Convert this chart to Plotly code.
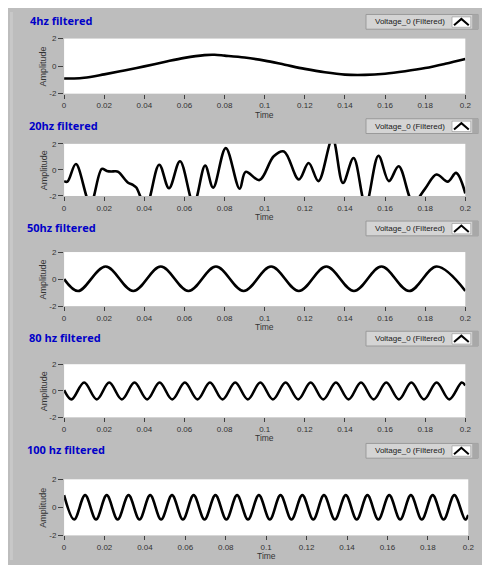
import plotly.graph_objects as go

# The page keeps the default 8 px body margin; the figure runs to the window's right and bottom edges.
OX, OY = 8, 8
FW, FH = 482, 557

# ---------------- data ----------------
titles = ["4hz filtered", "20hz filtered", "50hz filtered", "80 hz filtered", "100 hz filtered"]
legend_name = "Voltage_0 (Filtered)"
x_title = "Time"
y_title = "Amplitude"
x_tick_vals = [0, 0.02, 0.04, 0.06, 0.08, 0.1, 0.12, 0.14, 0.16, 0.18, 0.2]
x_tick_text = ["0", "0.02", "0.04", "0.06", "0.08", "0.1", "0.12", "0.14", "0.16", "0.18", "0.2"]
y_tick_vals = [-2, 0, 2]
y_tick_text = ["-2", "0", "2"]

t_4hz = [0, 0.005, 0.01, 0.02, 0.03, 0.04, 0.05, 0.06, 0.07, 0.075, 0.08, 0.09, 0.10,
         0.11, 0.12, 0.13, 0.14, 0.15, 0.16, 0.17, 0.18, 0.19, 0.20]
v_4hz = [-0.90, -0.90, -0.85, -0.60, -0.32, -0.02, 0.30, 0.60, 0.80, 0.82, 0.76, 0.62, 0.40,
         0.10, -0.20, -0.45, -0.62, -0.64, -0.55, -0.37, -0.14, 0.17, 0.52]

t_20hz = [0, 0.0017, 0.0059, 0.0131, 0.0188, 0.0213, 0.0235, 0.0255, 0.0270, 0.0319, 0.0343,
          0.0360, 0.0408, 0.0474, 0.0523, 0.0578, 0.0646, 0.0703, 0.0743, 0.0806, 0.0875,
          0.0905, 0.0974, 0.1045, 0.1096, 0.1170, 0.1219, 0.1268, 0.1338, 0.1390, 0.1443,
          0.1503, 0.1567, 0.1619, 0.1668, 0.1740, 0.1799, 0.1856, 0.1913, 0.1954, 0.2000]
v_20hz = [-0.86, -0.90, 0.45, -2.60, 0.08, -0.08, -0.12, -0.10, -0.15, -0.98, -1.15,
          -1.35, -2.80, 0.40, -1.41, 0.66, -2.60, 0.33, -1.36, 1.67, -1.45,
          -0.15, -0.78, 1.05, 1.42, -0.73, 0.53, -0.86, 2.40, -1.00, 0.91,
          -2.70, 1.09, -0.86, 0.28, -2.50, -1.45, -0.35, -0.90, -0.23, -1.80]

t_50hz = [0, 0.0070, 0.0207, 0.0345, 0.0482, 0.0620, 0.0757, 0.0895, 0.1032, 0.1170,
          0.1307, 0.1445, 0.1582, 0.1720, 0.1857, 0.2000]
v_50hz = [0.00, -0.88, 0.93, -0.88, 0.93, -0.88, 0.93, -0.88, 0.93, -0.88,
          0.93, -0.88, 0.93, -0.88, 0.93, -0.87]

t_80hz = [0, 0.0037, 0.0100, 0.0163, 0.0225, 0.0288, 0.0351, 0.0414, 0.0476, 0.0539,
          0.0602, 0.0665, 0.0727, 0.0790, 0.0853, 0.0916, 0.0978, 0.1041, 0.1104, 0.1167,
          0.1229, 0.1292, 0.1355, 0.1418, 0.1480, 0.1543, 0.1606, 0.1669, 0.1731, 0.1794,
          0.1857, 0.1920, 0.1982, 0.2000]
v_80hz = [0.05, -0.65, 0.62, -0.65, 0.62, -0.65, 0.62, -0.65, 0.62, -0.65,
          0.62, -0.65, 0.62, -0.65, 0.62, -0.65, 0.62, -0.65, 0.62, -0.65,
          0.62, -0.65, 0.62, -0.65, 0.62, -0.65, 0.62, -0.65, 0.62, -0.65,
          0.62, -0.65, 0.62, 0.40]

t_100hz = [0, 0.0050, 0.0104, 0.0158, 0.0211, 0.0265, 0.0319, 0.0373, 0.0426, 0.0480,
           0.0534, 0.0588, 0.0641, 0.0695, 0.0749, 0.0803, 0.0856, 0.0910, 0.0964, 0.1018,
           0.1071, 0.1125, 0.1179, 0.1233, 0.1286, 0.1340, 0.1394, 0.1448, 0.1501, 0.1555,
           0.1609, 0.1663, 0.1716, 0.1770, 0.1824, 0.1878, 0.1931, 0.1985, 0.2000]
v_100hz = [0.87, -0.87, 0.87, -0.87, 0.87, -0.87, 0.87, -0.87, 0.87, -0.87,
           0.87, -0.87, 0.87, -0.87, 0.87, -0.87, 0.87, -0.87, 0.87, -0.87,
           0.87, -0.87, 0.87, -0.87, 0.87, -0.87, 0.87, -0.87, 0.87, -0.87,
           0.87, -0.87, 0.87, -0.87, 0.87, -0.87, 0.87, -0.87, -0.55]

series = [(t_4hz, v_4hz), (t_20hz, v_20hz), (t_50hz, v_50hz), (t_80hz, v_80hz), (t_100hz, v_100hz)]

# ---------------- layout geometry (window pixels) ----------------
boxes = [
    dict(x0=63, x1=471, y0=35, y1=91, tx=26, ty=17, ly=10.5, xt=21.5),
    dict(x0=63, x1=471, y0=142, y1=195, tx=25, ty=123, ly=116.5, xt=21.5),
    dict(x0=63, x1=471, y0=252, y1=307, tx=23, ty=227, ly=220.5, xt=21.5),
    dict(x0=63, x1=471, y0=366, y1=420, tx=25, ty=339, ly=332.5, xt=21.5),
    dict(x0=63, x1=474, y0=483, y1=540, tx=23, ty=453, ly=446.5, xt=20.6),
]

BG = "#bdbdbd"
TXT = "#333333"
FONTFAM = "Liberation Sans, Arial, sans-serif"
TICKFONT = dict(family=FONTFAM, size=8, color=TXT)
YTITLEFONT = dict(family=FONTFAM, size=9, color=TXT)
XTITLEFONT = dict(family=FONTFAM, size=8.5, color=TXT)
LEGFONT = dict(family=FONTFAM, size=8, color="#202020")
TITLEFONT = dict(family="Open Sans, Noto Sans, sans-serif", size=11, color="#0000c8")


def px(x):
    return (x - OX) / FW


def py(y):
    return 1 - (y - OY) / FH


fig = go.Figure()
layout = dict(
    width=FW, height=FH, autosize=False,
    margin=dict(l=0, r=0, t=0, b=0),
    paper_bgcolor=BG, plot_bgcolor="white",
    showlegend=False,
)
shapes = [
    dict(type="rect", xref="paper", yref="paper", x0=px(8), x1=px(11), y0=py(8), y1=py(OY + FH),
         fillcolor="#c8c8c8", line=dict(width=0)),
]
annotations = []

for i, (b, (t, v), title) in enumerate(zip(boxes, series, titles)):
    n = i + 1
    xa = "x" if n == 1 else f"x{n}"
    ya = "y" if n == 1 else f"y{n}"
    fig.add_trace(go.Scatter(x=t, y=v, mode="lines", xaxis=xa, yaxis=ya,
                             line=dict(color="black", width=2.6, shape="spline", smoothing=1),
                             name=legend_name, hoverinfo="x+y"))
    layout[f"xaxis{n}"] = dict(
        domain=[px(b["x0"]), px(b["x1"])], range=[0, 0.2], anchor=ya,
        tickmode="array", tickvals=x_tick_vals, ticktext=x_tick_text,
        ticks="outside", ticklen=4, tickwidth=1, tickcolor="#404040",
        tickfont=TICKFONT, showgrid=False, zeroline=False, showline=False, fixedrange=True)
    layout[f"yaxis{n}"] = dict(
        domain=[py(b["y1"]), py(b["y0"])], range=[-2, 2], anchor=xa,
        tickmode="array", tickvals=y_tick_vals, ticktext=y_tick_text,
        ticks="outside", ticklen=5, tickwidth=1, tickcolor="#404040",
        tickfont=TICKFONT, showgrid=False, zeroline=False, showline=False, fixedrange=True)

    # panel title
    annotations.append(dict(text=f"<b>{title}</b>", xref="paper", yref="paper",
                            x=px(b["tx"]), y=py(b["ty"]), xanchor="left", yanchor="middle",
                            showarrow=False, font=TITLEFONT))
    # axis titles
    annotations.append(dict(text=y_title, xref="paper", yref="paper", textangle=-90,
                            x=px(42), y=py((b["y0"] + b["y1"]) / 2), xanchor="center", yanchor="middle",
                            showarrow=False, font=YTITLEFONT))
    annotations.append(dict(text=x_title, xref="paper", yref="paper",
                            x=px((b["x0"] + b["x1"]) / 2), y=py(b["y1"] + b["xt"]), xanchor="center",
                            yanchor="middle", showarrow=False, font=XTITLEFONT, borderpad=0))

    # legend box (LabVIEW style)
    ly = b["ly"]
    lx0, lx1 = 370, 484
    shapes.append(dict(type="rect", xref="paper", yref="paper", x0=px(lx0), x1=px(lx1),
                       y0=py(ly), y1=py(ly + 15), fillcolor="#d4d4d4",
                       line=dict(color="#9a9a9a", width=1)))
    shapes.append(dict(type="rect", xref="paper", yref="paper", x0=px(lx1 - 6), x1=px(lx1),
                       y0=py(ly), y1=py(ly + 15), fillcolor="#a8a8a8", line=dict(width=0)))
    shapes.append(dict(type="rect", xref="paper", yref="paper", x0=px(457.5), x1=px(476.5),
                       y0=py(ly + 2.5), y1=py(ly + 13), fillcolor="white",
                       line=dict(color="#808080", width=0.5)))
    shapes.append(dict(type="path", xref="paper", yref="paper",
                       path=f"M {px(459.5)},{py(ly + 11)} L {px(467)},{py(ly + 4.5)} L {px(474.5)},{py(ly + 11)}",
                       line=dict(color="black", width=2)))
    annotations.append(dict(text=legend_name, xref="paper", yref="paper",
                            x=px(415), y=py(ly + 7.5), xanchor="center", yanchor="middle",
                            showarrow=False, font=LEGFONT))

layout["shapes"] = shapes
layout["annotations"] = annotations
fig.update_layout(**layout)
fig.write_html("out.html", config={"displayModeBar": False})
